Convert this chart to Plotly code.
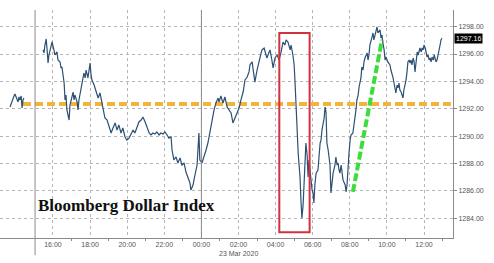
import plotly.graph_objects as go

# ---- data ----
fri_times = ["13:41","13:48","13:54","13:57","14:04","14:07","14:10","14:13","14:17","14:20","14:23","14:26"]
fri_vals = [1292.13,1292.64,1292.93,1293.08,1292.71,1292.49,1292.86,1292.64,1292.93,1292.05,1292.64,1292.78]

sun_times = ["15:28","15:31","15:34","15:38","15:41","15:44","15:47","15:50","15:57","16:03",
             "16:06","16:13","16:16","16:23","16:26","16:29","16:36","16:39","16:42","16:45",
             "16:52","16:55","17:01","17:05","17:08","17:11","17:18","17:21","17:24","17:31",
             "17:34","17:40","17:44","17:47","17:53","18:00","18:03","18:06","18:13","18:19",
             "18:26","18:32","18:42","18:48","18:55","19:01","19:08","19:14","19:21","19:27",
             "19:33","19:40","19:46","19:53","19:59","20:06","20:12","20:19","20:25","20:32",
             "20:38","20:45","20:51","20:58","21:04","21:11","21:17","21:23","21:30","21:36",
             "21:43","21:49","21:56","22:02","22:09","22:15","22:22","22:25","22:31","22:38",
             "22:44","22:51","22:57","23:04","23:10","23:17","23:23","23:26","23:33","23:36",
             "23:42","23:46","23:52","23:55"]
sun_vals = [1296.30,1296.08,1296.66,1297.10,1296.30,1295.34,1295.93,1296.30,1296.88,1296.30,
            1295.93,1296.15,1295.56,1295.42,1294.98,1295.05,1293.88,1292.64,1293.00,1291.91,
            1291.17,1292.27,1292.78,1293.22,1292.64,1293.00,1292.49,1291.91,1292.64,1293.52,
            1294.10,1294.61,1294.25,1294.83,1294.25,1295.34,1294.47,1294.10,1293.73,1293.22,
            1292.78,1293.15,1291.91,1291.32,1291.17,1290.74,1290.22,1290.59,1290.96,1290.44,
            1290.81,1290.22,1290.59,1289.93,1289.71,1289.85,1290.08,1290.44,1290.22,1290.66,
            1291.03,1291.17,1291.39,1291.03,1290.59,1290.22,1290.08,1290.22,1290.15,1290.30,
            1290.08,1290.22,1290.15,1290.30,1290.08,1289.85,1289.93,1288.98,1288.25,1288.47,
            1288.03,1288.40,1287.88,1288.03,1287.37,1286.94,1286.57,1286.05,1286.42,1286.79,
            1287.37,1287.88,1290.22,1288.25]

mon_times = ["00:02","00:08","00:15","00:21","00:28","00:34","00:41","00:47","00:54","00:57",
             "01:03","01:10","01:16","01:23","01:29","01:36","01:42","01:49","01:55","02:02",
             "02:08","02:15","02:21","02:28","02:34","02:37","02:44","02:47","02:53","03:00",
             "03:03","03:10","03:16","03:23","03:29","03:32","03:39","03:42","03:48","03:52",
             "03:58","04:05","04:11","04:18","04:24","04:30","04:34","04:40","04:47","04:50",
             "04:56","05:00","05:03","05:06","05:09","05:13","05:16","05:19","05:22","05:25",
             "05:29","05:32","05:35","05:38","05:42","05:45","05:48","05:51","05:55","05:58",
             "06:01","06:04","06:07","06:11","06:17","06:20","06:24","06:27","06:30","06:37",
             "06:40","06:43","06:46","06:50","06:53","06:56","06:59","07:03","07:06","07:12",
             "07:15","07:19","07:22","07:25","07:28","07:32","07:35","07:38","07:45","07:48",
             "07:51","07:54","07:57","08:01","08:04","08:10","08:14","08:17","08:20","08:23",
             "08:27","08:30","08:36","08:39","08:43","08:46","08:49","08:56","08:59","09:02",
             "09:05","09:12","09:15","09:18","09:21","09:25","09:28","09:31","09:34","09:38",
             "09:41","09:44","09:47","09:51","09:54","09:57","10:03","10:10","10:13","10:16",
             "10:20","10:23","10:26","10:29","10:33","10:36","10:39","10:42","10:46","10:49",
             "10:52","10:55","10:59","11:02","11:05","11:08","11:12","11:15","11:18","11:21",
             "11:25","11:28","11:31","11:34","11:38","11:41","11:44","11:47","11:51","11:54",
             "11:57","12:00","12:04","12:07","12:10","12:13","12:17","12:20","12:23","12:26",
             "12:30","12:33","12:36","12:39","12:42","12:46","12:49","12:52","12:55","12:58"]
mon_vals = [1288.03,1288.40,1288.98,1289.49,1290.44,1291.17,1291.91,1292.42,1292.78,1292.49,
            1292.93,1292.42,1292.86,1292.13,1291.91,1291.69,1290.96,1291.39,1291.69,1292.05,
            1292.64,1293.22,1294.10,1294.32,1294.69,1295.20,1295.42,1294.83,1293.95,1294.83,
            1295.20,1295.78,1296.30,1296.44,1295.93,1295.71,1296.15,1296.30,1295.56,1294.98,
            1295.71,1295.93,1295.56,1296.15,1296.88,1296.66,1297.03,1296.88,1296.30,1296.66,
            1295.93,1295.20,1293.88,1291.91,1290.22,1288.76,1287.88,1287.00,1285.32,1284.00,
            1284.96,1286.27,1287.52,1289.49,1288.61,1287.00,1288.25,1287.52,1286.42,1286.05,
            1285.83,1285.10,1286.42,1287.29,1287.52,1288.61,1289.49,1289.71,1290.44,1291.32,
            1292.13,1291.76,1289.49,1288.98,1288.47,1287.88,1285.83,1286.79,1287.29,1287.88,
            1288.47,1287.88,1288.03,1287.52,1287.29,1287.88,1287.37,1286.79,1286.42,1285.91,
            1286.42,1287.74,1288.61,1289.71,1290.08,1290.22,1290.81,1291.39,1291.91,1292.64,
            1293.00,1293.59,1294.25,1295.05,1294.83,1295.42,1295.71,1296.08,1295.56,1295.93,
            1296.66,1297.25,1297.54,1297.03,1297.39,1297.76,1297.98,1297.54,1297.61,1297.76,
            1297.17,1297.39,1296.81,1296.30,1295.56,1295.78,1295.42,1295.20,1294.83,1294.61,
            1294.25,1293.88,1293.37,1293.15,1293.73,1293.52,1293.88,1293.37,1293.22,1293.00,
            1292.78,1293.37,1293.73,1294.10,1294.69,1295.42,1295.56,1295.34,1295.56,1295.20,
            1295.71,1295.42,1294.69,1295.56,1296.15,1295.93,1296.30,1296.44,1296.15,1296.44,
            1296.30,1296.66,1296.44,1296.08,1295.78,1295.93,1295.56,1295.71,1295.42,1295.78,
            1295.56,1295.93,1295.71,1295.42,1295.56,1295.93,1296.30,1296.66,1297.03,1297.16]

last_price = 1297.16
support_level = 1292.35
support_span = ["2020-03-22 14:23", "2020-03-23 13:27"]
rebound_times = ["2020-03-23 08:10", "2020-03-23 09:44"]
rebound_vals = [1285.91, 1297.03]
box_times = ["2020-03-23 04:12", "2020-03-23 05:50"]
box_vals = [1282.96, 1297.54]
day_separators = ["2020-03-22 15:02", "2020-03-23 00:00"]
x_range = ["2020-03-22 13:08:36", "2020-03-23 13:33:48"]
x_major_ticks = ["2020-03-22 16:00", "2020-03-22 18:00", "2020-03-22 20:00", "2020-03-22 22:00",
                 "2020-03-23 00:00", "2020-03-23 02:00", "2020-03-23 04:00", "2020-03-23 06:00",
                 "2020-03-23 08:00", "2020-03-23 10:00", "2020-03-23 12:00"]
x_minor_ticks = ["2020-03-22 17:00", "2020-03-22 19:00", "2020-03-22 21:00", "2020-03-22 23:00",
                 "2020-03-23 01:00", "2020-03-23 03:00", "2020-03-23 05:00", "2020-03-23 07:00",
                 "2020-03-23 09:00", "2020-03-23 11:00", "2020-03-23 13:00"]
x_tick_text = ["16:00", "18:00", "20:00", "22:00", "00:00", "02:00", "04:00", "06:00",
               "08:00", "10:00", "12:00"]
date_label = "23 Mar 2020"
date_label_at = "2020-03-23 02:00"
y_range = [1282.543, 1299.22]
y_ticks = [1284, 1286, 1288, 1290, 1292, 1294, 1296, 1298]

# ---- build series ----
xs, ys = [], []
for t, v in zip(fri_times, fri_vals):
    xs.append("2020-03-22 " + t); ys.append(v)
xs.append(None); ys.append(None)
for t, v in zip(sun_times, sun_vals):
    xs.append("2020-03-22 " + t); ys.append(v)
for t, v in zip(mon_times, mon_vals):
    xs.append("2020-03-23 " + t); ys.append(v)

grey = "#8a8a8a"
tickfont = dict(family="Liberation Sans, Arial", size=7, color="#555555")

fig = go.Figure()
# orange support line
fig.add_trace(go.Scatter(x=support_span, y=[support_level, support_level], mode="lines",
                         line=dict(color="#f2b53a", width=4, dash="8px,4px"),
                         hoverinfo="skip", showlegend=False))
# price line
fig.add_trace(go.Scatter(x=xs, y=ys, mode="lines",
                         line=dict(color="#2c4f74", width=1.2),
                         connectgaps=False, showlegend=False))
# green rebound line
fig.add_trace(go.Scatter(x=rebound_times, y=rebound_vals, mode="lines",
                         line=dict(color="#3cdc3c", width=4, dash="8px,3px"),
                         hoverinfo="skip", showlegend=False))

# red box
fig.add_shape(type="rect", xref="x", yref="y", x0=box_times[0], x1=box_times[1],
              y0=box_vals[0], y1=box_vals[1], line=dict(color="#d0323e", width=2),
              fillcolor="rgba(0,0,0,0)")
# day separators
fig.add_shape(type="line", xref="x", yref="paper", x0=day_separators[0], x1=day_separators[0],
              y0=-0.075, y1=1, line=dict(color=grey, width=1))
fig.add_shape(type="line", xref="x", yref="paper", x0=day_separators[1], x1=day_separators[1],
              y0=0, y1=1, line=dict(color=grey, width=1))

# title text
fig.add_annotation(text="<b>Bloomberg Dollar Index</b>", xref="paper", yref="paper",
                   x=0.0795, y=0.142, xanchor="left", yanchor="middle", showarrow=False,
                   font=dict(family="Liberation Serif, Times New Roman, serif", size=17, color="#111111"))
# date label
fig.add_annotation(text=date_label, xref="x", yref="paper", x=date_label_at, y=-0.066,
                   xanchor="center", yanchor="middle", showarrow=False, font=tickfont)
# last price box
fig.add_annotation(text=f"{last_price:.2f}", xref="paper", yref="y", x=1, y=last_price,
                   xanchor="left", yanchor="middle", xshift=1, showarrow=False,
                   bgcolor="#000000", borderpad=1,
                   font=dict(family="Liberation Sans, Arial", size=7, color="#ffffff"))

fig.update_layout(
    width=494, height=263, margin=dict(l=0, r=41, t=10, b=25),
    paper_bgcolor="white", plot_bgcolor="white", showlegend=False,
    xaxis=dict(type="date", range=x_range, tickmode="array", tickvals=x_major_ticks,
               ticktext=x_tick_text, tickfont=tickfont, showgrid=True, gridcolor="#b5b5b5",
               griddash="dot", gridwidth=1, showline=True, linecolor=grey, linewidth=1,
               ticks="outside", ticklen=0, zeroline=False, fixedrange=True,
               minor=dict(tickmode="array", tickvals=x_minor_ticks, ticks="outside",
                          ticklen=2, tickcolor=grey, showgrid=False)),
    yaxis=dict(range=y_range, side="right", tickvals=y_ticks, tickformat=".2f",
               tickfont=tickfont, showgrid=True, gridcolor="#b5b5b5", griddash="dot",
               gridwidth=1, showline=True, linecolor=grey, linewidth=1, ticks="outside",
               ticklen=3, tickcolor=grey, zeroline=False, fixedrange=True),
)

fig.write_html("out.html")
